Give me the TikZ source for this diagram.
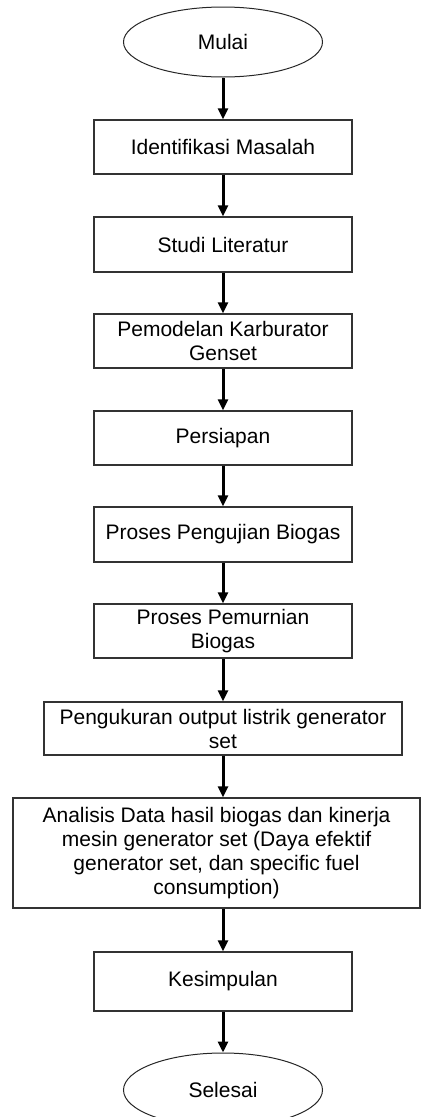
\documentclass[tikz,border=0pt]{standalone}
\usepackage{fontspec}
\setmainfont{Liberation Sans}
\usetikzlibrary{shapes.geometric,arrows.meta}

\begin{document}
\begin{tikzpicture}[x=1pt,y=-1pt,
    font=\fontsize{21}{24}\selectfont,
    terminal/.style={ellipse,draw=black!85,line width=1pt,minimum width=199pt,minimum height=70pt,inner sep=0pt},
    proses/.style={rectangle,draw=black!80,line width=1.3pt,minimum width=258pt,minimum height=54pt,inner sep=0pt,align=center},
    panah/.style={-{Triangle[length=11pt,width=10pt]},line width=3pt}]
        \useasboundingbox (0,0) rectangle (421,1117);

        \node[terminal] (mulai) at (223,42) {Mulai}; % Awal
        \node[proses] (identifikasi) at (223,147) {Identifikasi Masalah};
        \node[proses,minimum height=55pt] (studi) at (223,244.5) {Studi Literatur};
        \node[proses] (pemodelan) at (223,341) {Pemodelan Karburator\\Genset};
        \node[proses] (persiapan) at (223,438) {Persiapan};
        \node[proses,minimum height=55pt] (pengujian) at (223,534.5) {Proses Pengujian Biogas};
        \node[proses] (pemurnian) at (223,631) {Proses Pemurnian\\Biogas};
        \node[proses,minimum width=358pt,minimum height=53pt] (pengukuran) at (223,728.5) {Pengukuran output listrik generator\\set};
        \node[proses,minimum width=407pt,minimum height=110pt] (analisis) at (216.5,853)
            {Analisis Data hasil biogas dan kinerja\\mesin generator set (Daya efektif\\generator set, dan specific fuel\\consumption)};
        \node[proses,minimum height=59pt] (kesimpulan) at (223,981.5) {Kesimpulan};
        \node[terminal,minimum height=74pt] (selesai) at (223,1090) {Selesai}; % Akhir

        % Panah alur
        \draw[panah] (mulai) -- (identifikasi);
        \draw[panah] (identifikasi) -- (studi);
        \draw[panah] (studi) -- (pemodelan);
        \draw[panah] (pemodelan) -- (persiapan);
        \draw[panah] (persiapan) -- (pengujian);
        \draw[panah] (pengujian) -- (pemurnian);
        \draw[panah] (pemurnian) -- (pengukuran);
        \draw[panah] (pengukuran.south) -- (pengukuran.south |- analisis.north);
        \draw[panah] (kesimpulan.north |- analisis.south) -- (kesimpulan.north);
        \draw[panah] (kesimpulan) -- (selesai);
    \end{tikzpicture}
\end{document}
